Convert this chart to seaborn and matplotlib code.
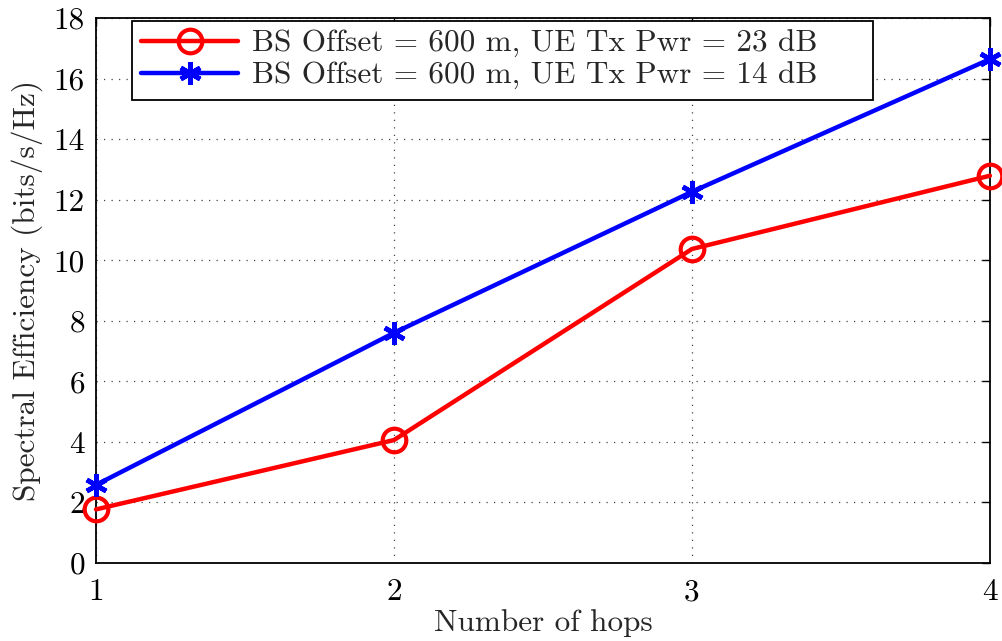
import matplotlib
matplotlib.use("Agg")
import matplotlib.pyplot as plt
import seaborn as sns
import pandas as pd

hops = [1, 2, 3, 4]
se_23db = [1.77, 4.06, 10.37, 12.79]
se_14db = [2.58, 7.60, 12.26, 16.64]
label_23db = "BS Offset = 600 m, UE Tx Pwr = 23 dB"
label_14db = "BS Offset = 600 m, UE Tx Pwr = 14 dB"
x_ticks = [1, 2, 3, 4]
y_ticks = [0, 2, 4, 6, 8, 10, 12, 14, 16, 18]

sns.set_theme(style="white")
plt.rcParams["font.family"] = "serif"
plt.rcParams["font.serif"] = ["cmr10", "DejaVu Serif"]
plt.rcParams["mathtext.fontset"] = "cm"
plt.rcParams["axes.formatter.use_mathtext"] = True

FS = 22.5

df = pd.concat([
    pd.DataFrame({"hops": hops, "se": se_23db, "series": label_23db}),
    pd.DataFrame({"hops": hops, "se": se_14db, "series": label_14db}),
])

fig = plt.figure(figsize=(10.03, 6.41), dpi=100)
ax = fig.add_axes([0.0957, 0.1217, 0.8913, 0.8503])

sns.lineplot(data=df[df.series == label_23db], x="hops", y="se", ax=ax,
             color="#ff0000", linewidth=3.2, marker="o", markersize=17,
             markerfacecolor="none", markeredgecolor="#ff0000",
             markeredgewidth=3, label=label_23db, clip_on=False, zorder=3)
sns.lineplot(data=df[df.series == label_14db], x="hops", y="se", ax=ax,
             color="#0000ff", linewidth=3.2, marker=(6, 2, 0), markersize=16,
             markeredgecolor="#0000ff", markeredgewidth=3.4, label=label_14db,
             clip_on=False, zorder=3)

ax.set_xlim(1, 4)
ax.set_ylim(0, 18)
ax.set_xticks(x_ticks)
ax.set_yticks(y_ticks)
ax.set_xticklabels([str(v) for v in x_ticks])
ax.set_yticklabels([str(v) for v in y_ticks])
ax.tick_params(direction="in", length=6, width=1, colors="black",
               labelsize=FS, top=True, right=True)
ax.tick_params(axis="x", pad=11)
ax.tick_params(axis="y", pad=8)
ax.grid(True, linestyle=(0, (1, 5)), color="#444444", linewidth=0.9)
for s in ax.spines.values():
    s.set_color("black")
    s.set_linewidth(1.3)

ax.set_xlabel("Number of hops", fontsize=FS, labelpad=2)
ax.set_ylabel("Spectral Efficiency (bits/s/Hz)", fontsize=FS, labelpad=8)

leg = ax.legend(loc="upper left", bbox_to_anchor=(0.0403, 0.862, 0.829, 0.1325),
                mode="expand", fontsize=FS,
                frameon=True, fancybox=False, edgecolor="black",
                handlelength=3.1, borderpad=0.3, labelspacing=0.12,
                handletextpad=0.45, borderaxespad=0)
leg.get_frame().set_linewidth(1.3)
leg.get_frame().set_alpha(1)

fig.savefig("out.png", dpi=100)
